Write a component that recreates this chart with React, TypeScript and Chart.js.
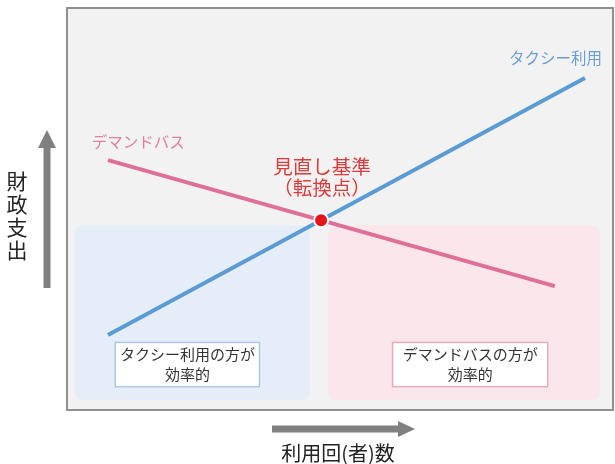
import React, { useEffect, useRef } from "react";
import { Chart, registerables } from "chart.js";
Chart.register(...registerables);

// ---- data (conceptual scale 0-100 on both axes) ----
const taxiX = [7.66, 94.7];
const taxiY = [18.8, 82.4];
const busX = [7.66, 89.2];
const busY = [62.1, 30.9];
const pivotPoint = [46.55, 47.2];
const seriesNames = ["タクシー利用", "デマンドバス"];
const seriesLabelPos = [[97.8, 87.4], [4.7, 66.6]];
const pivotLabel = ["見直し基準", "（転換点）"];
const pivotLabelPos = [46.7, 60.4, 55.2];
const zoneX = [[1.6, 44.5], [47.8, 97.4]];
const zoneY = [2.7, 46.0];
const boxX = [[8.9, 35.4], [59.5, 88.0]];
const boxY = [5.9, 17.1];
const boxTexts = [["タクシー利用の方が", "効率的"], ["デマンドバスの方が", "効率的"]];
const yTitle = "財政支出";
const xTitle = "利用回(者)数";

const FONT = '"Noto Sans CJK JP", "Noto Sans", sans-serif';
const BLUE = "#5b9bd5";
const PINK = "#df6f98";

const decor = {
  id: "decor",
  beforeDatasetsDraw(chart: any) {
    const { ctx, chartArea: a, scales } = chart;
    const x = scales.x, y = scales.y;
    ctx.save();
    ctx.fillStyle = "#f2f2f2";
    ctx.fillRect(a.left, a.top, a.right - a.left, a.bottom - a.top);
    const zoneColors = ["#e5eef8", "#fbe6ec"];
    zoneX.forEach((zx, i) => {
      const l = x.getPixelForValue(zx[0]), r = x.getPixelForValue(zx[1]);
      const t = y.getPixelForValue(zoneY[1]), b = y.getPixelForValue(zoneY[0]);
      ctx.fillStyle = zoneColors[i];
      ctx.beginPath();
      ctx.roundRect(l, t, r - l, b - t, 8);
      ctx.fill();
    });
    // boxes
    const boxBorders = ["#a9c8e8", "#eaa9bf"];
    boxX.forEach((bx, i) => {
      const l = x.getPixelForValue(bx[0]), r = x.getPixelForValue(bx[1]);
      const t = y.getPixelForValue(boxY[1]), b = y.getPixelForValue(boxY[0]);
      ctx.fillStyle = "#ffffff";
      ctx.fillRect(l, t, r - l, b - t);
      ctx.strokeStyle = boxBorders[i];
      ctx.lineWidth = 1.5;
      ctx.strokeRect(l + 0.5, t + 0.5, r - l - 1, b - t - 1);
      ctx.fillStyle = "#333333";
      ctx.font = `15px ${FONT}`;
      ctx.textAlign = "center";
      ctx.textBaseline = "middle";
      const cx = (l + r) / 2, cy = (t + b) / 2;
      ctx.fillText(boxTexts[i][0], cx, cy - 10);
      ctx.fillText(boxTexts[i][1], cx, cy + 10);
    });
    // frame
    ctx.strokeStyle = "#8f8f8f";
    ctx.lineWidth = 2;
    ctx.strokeRect(a.left + 1, a.top + 1, a.right - a.left - 2, a.bottom - a.top - 2);
    ctx.restore();
  },
  afterDraw(chart: any) {
    const { ctx, chartArea: a, scales } = chart;
    const x = scales.x, y = scales.y;
    ctx.save();
    // series labels
    ctx.font = `15.5px ${FONT}`;
    ctx.textBaseline = "middle";
    ctx.fillStyle = "#6a9fd3";
    ctx.textAlign = "right";
    ctx.fillText(seriesNames[0], x.getPixelForValue(seriesLabelPos[0][0]), y.getPixelForValue(seriesLabelPos[0][1]));
    ctx.fillStyle = "#e07ea3";
    ctx.textAlign = "left";
    ctx.fillText(seriesNames[1], x.getPixelForValue(seriesLabelPos[1][0]), y.getPixelForValue(seriesLabelPos[1][1]));
    // pivot label
    ctx.fillStyle = "#e03a3a";
    ctx.textAlign = "center";
    ctx.font = `19.5px ${FONT}`;
    const px = x.getPixelForValue(pivotLabelPos[0]);
    ctx.fillText(pivotLabel[0], px, y.getPixelForValue(pivotLabelPos[1]));
    ctx.fillText(pivotLabel[1], px, y.getPixelForValue(pivotLabelPos[2]));
    // y-axis arrow & title
    ctx.fillStyle = "#808080";
    const ax = a.left - 19;
    ctx.fillRect(ax - 3.5, 146, 7, 288 - 146);
    ctx.beginPath();
    ctx.moveTo(ax, 130);
    ctx.lineTo(ax + 9, 148);
    ctx.lineTo(ax - 9, 148);
    ctx.closePath();
    ctx.fill();
    // x-axis arrow
    const ay = a.bottom + 18;
    ctx.fillRect(272, ay - 3.5, 400 - 272, 7);
    ctx.beginPath();
    ctx.moveTo(415, ay);
    ctx.lineTo(398, ay - 8);
    ctx.lineTo(398, ay + 8);
    ctx.closePath();
    ctx.fill();
    ctx.fillStyle = "#222222";
    ctx.font = `21px ${FONT}`;
    ctx.textAlign = "center";
    ctx.textBaseline = "middle";
    Array.from(yTitle).forEach((ch, i) => ctx.fillText(ch, 17, 181 + i * 23));
    ctx.font = `20px ${FONT}`;
    ctx.fillText(xTitle, 338, ay + 24);
    ctx.restore();
  },
};

export default function App() {
  const ref = useRef<HTMLCanvasElement>(null);
  useEffect(() => {
    if (!ref.current) return;
    const chart = new Chart(ref.current, {
      type: "scatter",
      data: {
        datasets: [
          {
            label: "転換点",
            data: [{ x: pivotPoint[0], y: pivotPoint[1] }],
            pointRadius: 7,
            pointHoverRadius: 7,
            pointBackgroundColor: "#e8141c",
            pointBorderColor: "#ffffff",
            pointBorderWidth: 2,
            showLine: false,
            order: 0,
          },
          {
            label: seriesNames[0],
            data: taxiX.map((v, i) => ({ x: v, y: taxiY[i] })),
            showLine: true,
            borderColor: BLUE,
            borderWidth: 4,
            pointRadius: 0,
            pointHoverRadius: 0,
            order: 2,
          },
          {
            label: seriesNames[1],
            data: busX.map((v, i) => ({ x: v, y: busY[i] })),
            showLine: true,
            borderColor: PINK,
            borderWidth: 4,
            pointRadius: 0,
            pointHoverRadius: 0,
            order: 1,
          },
        ],
      },
      options: {
        animation: false,
        responsive: false,
        layout: { autoPadding: false, padding: { left: 66, right: 1, top: 7, bottom: 53 } },
        plugins: { legend: { display: false }, tooltip: { enabled: false } },
        scales: {
          x: { type: "linear", min: 0, max: 100, display: false },
          y: { type: "linear", min: 0, max: 100, display: false },
        },
      },
      plugins: [decor],
    });
    return () => chart.destroy();
  }, []);
  return (
    <div style={{ position: "fixed", left: 0, top: 0, width: 615, height: 464, background: "#fff" }}>
      <canvas ref={ref} width={615} height={464} style={{ width: 615, height: 464 }} />
    </div>
  );
}
